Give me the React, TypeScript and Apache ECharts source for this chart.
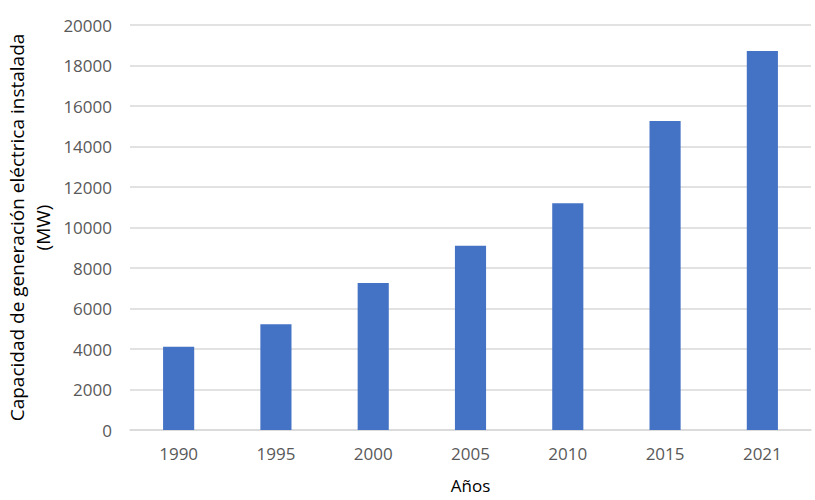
import React, { useEffect, useRef } from "react";
import * as echarts from "echarts";

const categories = ["1990", "1995", "2000", "2005", "2010", "2015", "2021"];
const capacityMW = [4110, 5220, 7260, 9100, 11200, 15260, 18720];
const yTicks = { min: 0, max: 20000, interval: 2000 };
const yTitleLines = ["Capacidad de generación eléctrica instalada", "(MW)"];
const xTitle = "Años";

export default function App() {
  const ref = useRef<HTMLDivElement>(null);
  useEffect(() => {
    if (!ref.current) return;
    const chart = echarts.init(ref.current, null, { renderer: "svg" });
    const font = "'Open Sans', 'Liberation Sans', sans-serif";
    const gridTop = 25;
    const gridBottom = 70;
    const midY = (gridTop + (500 - gridBottom)) / 2;
    chart.setOption({
      animation: false,
      backgroundColor: "#ffffff",
      grid: { left: 130, right: 4, top: gridTop, bottom: gridBottom, containLabel: false, outerBoundsMode: "none" },
      graphic: yTitleLines.map((t, i) => ({
        type: "text",
        x: 17 + i * 26,
        y: midY,
        rotation: Math.PI / 2,
        style: {
          text: t,
          fontFamily: font,
          fontSize: 19,
          fill: "#000000",
          textAlign: "center",
          textVerticalAlign: "middle",
        },
      })),
      xAxis: {
        type: "category",
        data: categories,
        name: xTitle,
        nameLocation: "middle",
        nameGap: 47,
        nameMoveOverlap: false,
        nameTextStyle: { fontFamily: font, fontSize: 17, color: "#000000" },
        axisLine: { show: true, lineStyle: { color: "#d9d9d9", width: 1.5 } },
        axisTick: { show: false },
        axisLabel: { fontFamily: font, fontSize: 17, color: "#595959", margin: 15 },
      },
      yAxis: {
        type: "value",
        min: yTicks.min,
        max: yTicks.max,
        interval: yTicks.interval,
        axisLine: { show: false },
        axisTick: { show: false },
        axisLabel: {
          fontFamily: font,
          fontSize: 17,
          color: "#595959",
          margin: 18,
          formatter: (v: number) => String(v),
        },
        splitLine: { show: true, lineStyle: { color: "#d9d9d9", width: 1.5 } },
      },
      series: [
        {
          type: "bar",
          data: capacityMW,
          barWidth: "32%",
          itemStyle: { color: "#4472C4" },
        },
      ],
    });
    return () => chart.dispose();
  }, []);
  return <div ref={ref} style={{ width: 815, height: 500, position: "absolute", left: 0, top: 0 }} />;
}
